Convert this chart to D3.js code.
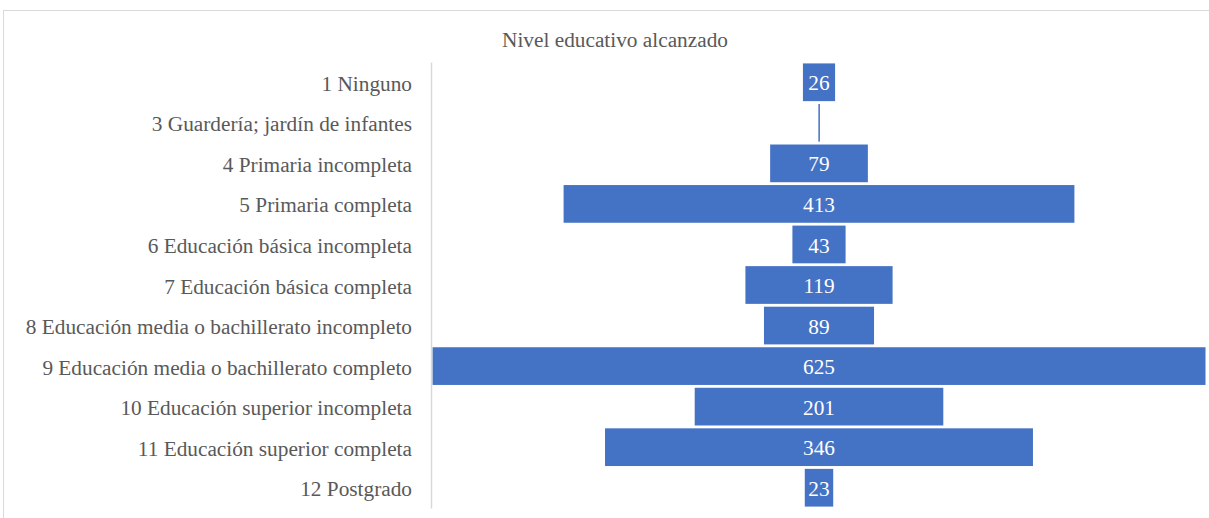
<!DOCTYPE html>
<html>
<head>
<meta charset="utf-8">
<script src="https://cdn.jsdelivr.net/npm/d3@7"></script>
<style>
  html, body { margin: 0; padding: 0; background: #fff; }
  svg { display: block; font-family: "Liberation Serif", "Times New Roman", serif; }
</style>
</head>
<body>
<script>
// categories and counts
const categories = [
  "1 Ninguno",
  "3 Guardería; jardín de infantes",
  "4 Primaria incompleta",
  "5 Primaria completa",
  "6 Educación básica incompleta",
  "7 Educación básica completa",
  "8 Educación media o bachillerato incompleto",
  "9 Educación media o bachillerato completo",
  "10 Educación superior incompleta",
  "11 Educación superior completa",
  "12 Postgrado"
];
const counts = [26, 1, 79, 413, 43, 119, 89, 625, 201, 346, 23];
const title = "Nivel educativo alcanzado";

const width = 1209, height = 518;
const fontSize = 21.3;

const svg = d3.select("body").append("svg")
  .attr("width", width)
  .attr("height", height);

// chart frame
svg.append("rect")
  .attr("x", 3.5).attr("y", 10.5)
  .attr("width", width + 10).attr("height", height + 10)
  .attr("fill", "#fff")
  .attr("stroke", "#d9d9d9");

svg.append("text")
  .attr("x", 615).attr("y", 47)
  .attr("text-anchor", "middle")
  .attr("font-size", fontSize)
  .attr("fill", "#595959")
  .text(title);

const plotLeft = 431, plotRight = 1206;
const y = d3.scaleBand()
  .domain(categories)
  .range([62, 508])
  .paddingInner(0.07)
  .paddingOuter(0.035);

const w = d3.scaleLinear()
  .domain([0, d3.max(counts)])
  .range([0, plotRight - plotLeft - 2]);
const cx = (plotLeft + plotRight) / 2 + 0.5;

const rows = categories.map((c, i) => ({ c, v: counts[i] }));

// bars
svg.append("g")
  .selectAll("rect")
  .data(rows)
  .join("rect")
  .attr("x", d => cx - w(d.v) / 2)
  .attr("y", d => y(d.c))
  .attr("width", d => Math.max(w(d.v), 1.5))
  .attr("height", y.bandwidth())
  .attr("fill", "#4472c4");

// value labels (too narrow bars get none)
svg.append("g")
  .selectAll("text")
  .data(rows.filter(d => w(d.v) > 20))
  .join("text")
  .attr("x", cx)
  .attr("y", d => y(d.c) + y.bandwidth() / 2)
  .attr("dy", "0.38em")
  .attr("text-anchor", "middle")
  .attr("font-size", fontSize)
  .attr("fill", "#fff")
  .text(d => d.v);

// category axis
const axis = svg.append("g")
  .attr("transform", `translate(${plotLeft},0)`)
  .call(d3.axisLeft(y).tickSize(0).tickPadding(19));
axis.attr("font-family", null).attr("font-size", null);
axis.select(".domain").attr("stroke", "#d9d9d9").attr("stroke-width", 1.5);
axis.selectAll("text")
  .attr("dy", "0.4em")
  .attr("font-size", fontSize)
  .attr("fill", "#595959");
</script>
</body>
</html>
